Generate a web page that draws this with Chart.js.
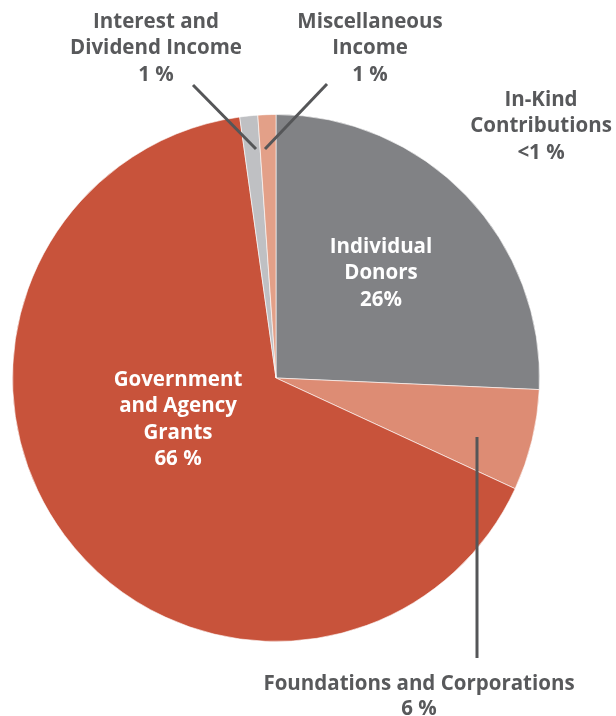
<!DOCTYPE html>
<html lang="en">
<head>
    <meta charset="UTF-8">
    <title>Revenue Sources</title>
    <style>
        html, body {margin: 0;
                    padding: 0;
                    background: #fff;}
        canvas {display: block;}
    </style>
    <script src="https://cdn.jsdelivr.net/npm/chart.js"></script>
</head>
<body>
    <canvas id="pieChart" width="616" height="716"></canvas>

    <script>
        // slices, clockwise from 12 o'clock
        const categories = ['Individual Donors', 'Foundations and Corporations', 'In-Kind Contributions',
                            'Government and Agency Grants', 'Interest and Dividend Income', 'Miscellaneous Income'];
        const shares = [25.7, 6.2, 0, 65.9, 1.1, 1.1];
        const shareLabels = ['26%', '6 %', '<1 %', '66 %', '1 %', '1 %'];
        const sliceColors = ['#818285', '#dd8c74', '#dd8c74', '#c8533b', '#bfc0c3', '#e3a088'];

        // label text blocks
        const labelLines = [
            ['Individual', 'Donors'],
            ['Foundations and Corporations'],
            ['In-Kind', 'Contributions'],
            ['Government', 'and Agency', 'Grants'],
            ['Interest and', 'Dividend Income'],
            ['Miscellaneous', 'Income']
        ];
        const labelPlace = [
            {x: 381, y: 247, color: '#ffffff'},
            {x: 419, y: 684, color: '#58595b', line: [477, 437, 477, 658]},
            {x: 541, y: 100, color: '#58595b'},
            {x: 178, y: 380, color: '#ffffff'},
            {x: 156, y: 22, color: '#58595b', line: [193, 85, 256, 149]},
            {x: 370, y: 22, color: '#58595b', line: [327, 84, 265, 149]}
        ];

        const labelPlugin = {
            id: 'sliceLabels',
            afterDatasetsDraw(chart) {
                const ctx = chart.ctx;
                ctx.save();
                labelPlace.forEach(p => {
                    if (!p.line) return;
                    ctx.strokeStyle = '#555658';
                    ctx.lineWidth = 3;
                    ctx.beginPath();
                    ctx.moveTo(p.line[0], p.line[1]);
                    ctx.lineTo(p.line[2], p.line[3]);
                    ctx.stroke();
                });
                ctx.font = 'bold 20.5px "Open Sans"';
                ctx.textAlign = 'center';
                ctx.textBaseline = 'middle';
                labelPlace.forEach((p, i) => {
                    const rows = labelLines[i].concat([shareLabels[i]]);
                    const lh = rows.length > 2 ? 26.5 : 25.5;
                    ctx.fillStyle = p.color;
                    rows.forEach((r, k) => ctx.fillText(r, p.x, p.y + k * lh));
                });
                ctx.restore();
            }
        };

        new Chart(document.getElementById('pieChart'), {
            type: 'pie',
            data: {
                labels: categories,
                datasets: [{
                    data: shares,
                    backgroundColor: sliceColors,
                    borderColor: 'rgba(255,255,255,0.6)',
                    borderWidth: 1}]},
            options: {
                responsive: false,
                animation: false,
                devicePixelRatio: 1,
                layout: {padding: {left: 12, right: 76, top: 114, bottom: 74}},
                plugins: {
                    legend: {display: false},
                    tooltip: {enabled: false}}},
            plugins: [labelPlugin]
        });
    </script>
</body>
</html>
